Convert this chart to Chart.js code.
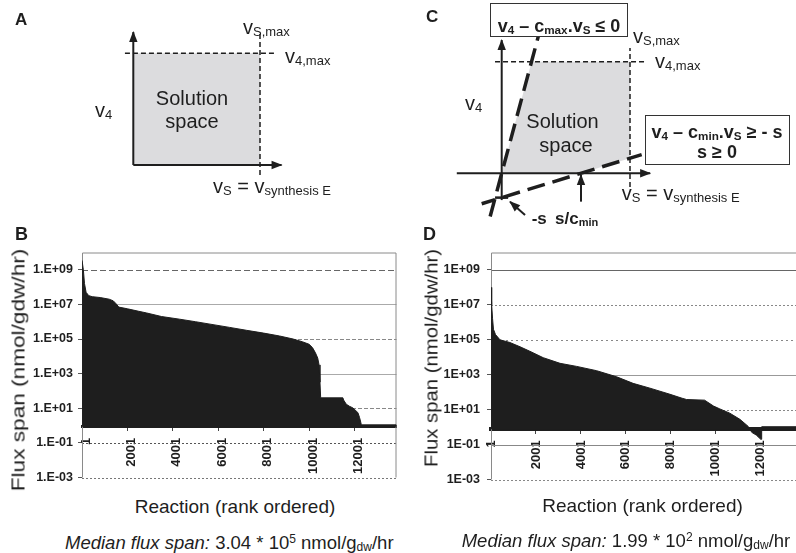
<!DOCTYPE html>
<html><head><meta charset="utf-8">
<script src="https://cdn.jsdelivr.net/npm/chart.js@4.4.1/dist/chart.umd.min.js"></script>
<style>
html,body{margin:0;padding:0;background:#fff;width:796px;height:553px;overflow:hidden;}
body{position:relative;font-family:"Liberation Sans",Arial,Helvetica,sans-serif;color:#1e1e1e;}
canvas{position:absolute;}
.t{position:absolute;white-space:nowrap;line-height:1;}
.t sub{font-size:0.65em;vertical-align:-0.18em;line-height:0;}
.t sup{font-size:0.65em;vertical-align:0.5em;line-height:0;}
.b{font-weight:bold;}
.box{position:absolute;border:1px solid #333;background:#fff;box-sizing:border-box;}
</style></head>
<body>
<canvas id="cA" width="400" height="220" style="left:0;top:0"></canvas>
<canvas id="cC" width="396" height="240" style="left:400px;top:0"></canvas>
<canvas id="cB" width="400" height="250" style="left:0;top:240px"></canvas>
<canvas id="cD" width="406" height="256" style="left:400px;top:238px"></canvas>

<!-- Panel A text -->
<div class="t b" style="left:15px;top:10.6px;font-size:17px">A</div>
<div class="t" style="left:95px;top:100.4px;font-size:20px">v<sub>4</sub></div>
<div class="t" style="left:243px;top:17.4px;font-size:20px">v<sub>S,max</sub></div>
<div class="t" style="left:285px;top:46.4px;font-size:20px">v<sub>4,max</sub></div>
<div class="t" style="left:192px;top:88px;font-size:20px;transform:translateX(-50%)">Solution</div>
<div class="t" style="left:192px;top:111px;font-size:20px;transform:translateX(-50%)">space</div>
<div class="t" style="left:213px;top:176.4px;font-size:20px">v<sub>S</sub> = v<sub>synthesis E</sub></div>

<!-- Panel C text -->
<div class="t b" style="left:426px;top:8.3px;font-size:17px">C</div>
<div class="box" style="left:490px;top:3px;width:138px;height:34px"></div>
<div class="t b" style="left:559px;top:16.5px;font-size:18px;transform:translateX(-50%)">v<sub>4</sub> – c<sub>max</sub>.v<sub>S</sub> ≤ 0</div>
<div class="t" style="left:633px;top:26.4px;font-size:20px">v<sub>S,max</sub></div>
<div class="t" style="left:655px;top:51.4px;font-size:20px">v<sub>4,max</sub></div>
<div class="t" style="left:465px;top:93.1px;font-size:20px">v<sub>4</sub></div>
<div class="t" style="left:562.5px;top:111.4px;font-size:20px;transform:translateX(-50%)">Solution</div>
<div class="t" style="left:566px;top:134.8px;font-size:20px;transform:translateX(-50%)">space</div>
<div class="box" style="left:645px;top:115px;width:145px;height:50px"></div>
<div class="t b" style="left:717px;top:123.1px;font-size:18px;transform:translateX(-50%)">v<sub>4</sub> – c<sub>min</sub>.v<sub>S</sub> ≥ - s</div>
<div class="t b" style="left:717px;top:143.1px;font-size:18px;transform:translateX(-50%)">s ≥ 0</div>
<div class="t" style="left:621.7px;top:183.1px;font-size:20px">v<sub>S</sub> = v<sub>synthesis E</sub></div>
<div class="t b" style="left:531.7px;top:210px;font-size:17px">-s</div>
<div class="t b" style="left:555px;top:210px;font-size:17px">s/c<sub>min</sub></div>

<!-- Panels B / D text -->
<div class="t b" style="left:15px;top:224.8px;font-size:18px">B</div>
<div class="t b" style="left:423px;top:224.8px;font-size:18px">D</div>
<div class="t" style="left:17.5px;top:370px;font-size:19px;transform:translate(-50%,-50%) rotate(-90deg) scaleX(1.19)">Flux span (nmol/gdw/hr)</div>
<div class="t" style="left:431px;top:357.5px;font-size:19px;transform:translate(-50%,-50%) rotate(-90deg) scaleX(1.07)">Flux span (nmol/gdw/hr)</div>
<div class="t" style="left:235px;top:497.2px;font-size:19px;transform:translateX(-50%)">Reaction (rank ordered)</div>
<div class="t" style="left:642.5px;top:495.6px;font-size:19px;transform:translateX(-50%)">Reaction (rank ordered)</div>
<div class="t" style="left:65px;top:534.3px;font-size:18.5px"><i>Median flux span:</i> 3.04 * 10<sup>5</sup> nmol/g<sub>dw</sub>/hr</div>
<div class="t" style="left:461.7px;top:532.3px;font-size:18.5px"><i>Median flux span:</i> 1.99 * 10<sup>2</sup> nmol/g<sub>dw</sub>/hr</div>

<script>
// ---------- DATA ----------
// Panel B: flux span per reaction (rank ordered)
const bReaction = [1, 60, 110, 180, 300, 450, 800, 1200, 1380, 1500, 1620, 2000, 2500, 2850, 3500, 4300, 5000, 5770, 6500, 7240, 8000, 8700, 9300, 9700, 10000, 10150, 10280, 10380, 10440, 10480, 10510, 11490, 11520, 11640, 11780, 11930, 12150, 12220, 12280, 12300, 13850];
const bFluxSpan = [3.5e9, 1e9, 1.6e8, 5e7, 3.2e7, 2.8e7, 2.5e7, 2e7, 1.6e7, 1.1e7, 7e6, 5.6e6, 4e6, 3.2e6, 2e6, 1.4e6, 1e6, 6.8e5, 4.7e5, 3.2e5, 2.2e5, 1.5e5, 1e5, 7e4, 5e4, 3.2e4, 1.6e4, 8e3, 3.2e3, 320, 40, 40, 30, 17, 13, 10.5, 5.6, 3, 1.5, 1.1, 1.1];
// Panel D
const dReaction = [1, 30, 70, 110, 200, 400, 840, 1290, 1730, 2320, 3070, 3810, 4700, 5590, 6320, 7070, 7960, 8500, 8700, 9500, 9900, 10180, 10620, 11070, 11440, 11600, 11800, 12000, 12030, 12040, 13700];
const dFluxSpan = [1e8, 1e7, 1.6e6, 4e5, 2e5, 1e5, 7e4, 4e4, 2.2e4, 9.5e3, 4.5e3, 3e3, 1.7e3, 760, 320, 170, 76, 45, 38, 35, 16, 11, 6.3, 2.8, 1.1, 0.5, 0.35, 0.2, 0.2, 1.05, 1.05];
// Axis ticks
const xTickValues = [1, 2001, 4001, 6001, 8001, 10001, 12001];
const xTickLabels = ['1', '2001', '4001', '6001', '8001', '10001', '12001'];
const yTickValues = [1e-3, 1e-1, 1e1, 1e3, 1e5, 1e7, 1e9];
const bYTickLabels = ['1.E-03', '1.E-01', '1.E+01', '1.E+03', '1.E+05', '1.E+07', '1.E+09'];
const dYTickLabels = ['1E-03', '1E-01', '1E+01', '1E+03', '1E+05', '1E+07', '1E+09'];

// Diagram A (units: vS,max = 1, v4,max = 1)
const aRegion = [[0,0],[1,0],[1,1],[0,1]];
const aXAxis = [[0,0],[1.17,0]];
const aYAxis = [[0,0],[0,1.19]];
const aV4Max = [[-0.066,1],[1.12,1]];
const aVSMax = [[1,-0.09],[1,1.18]];
// Diagram C
const cRegion = [[0,0],[0.233,1],[1,1],[1,0.135],[0.618,0]];
const cXAxis = [[-0.35,0],[1.157,0]];
const cYAxis = [[0,-0.24],[0,1.194]];
const cV4Max = [[-0.052,1],[1.117,1]];
const cVSMax = [[1,-0.123],[1,1.123]];
const cMaxLine = [[-0.09,-0.387],[0.30,1.29]];
const cMinLine = [[-0.156,-0.273],[1.091,0.167]];
const cSMark = [[-0.052,-0.218],[0.05,-0.218]];
const cArrowS = [[0.182,-0.374],[0.065,-0.254]];
const cArrowSc = [[0.618,-0.254],[0.618,-0.015]];

// ---------- RENDER ----------
Chart.defaults.font.family = '"Liberation Sans", Arial, sans-serif';
const INK = '#1e1e1e';

const arrowPlugin = {
  id: 'arrowHeads',
  afterDatasetsDraw(chart) {
    const ctx = chart.ctx;
    chart.data.datasets.forEach((ds, i) => {
      if (!ds.arrow) return;
      const el = chart.getDatasetMeta(i).data;
      const a = el[el.length - 2], b = el[el.length - 1];
      const ang = Math.atan2(b.y - a.y, b.x - a.x);
      const L = 10, W = 4.2;
      ctx.save();
      ctx.fillStyle = INK;
      ctx.beginPath();
      ctx.moveTo(b.x + Math.cos(ang), b.y + Math.sin(ang));
      ctx.lineTo(b.x - L * Math.cos(ang) + W * Math.sin(ang), b.y - L * Math.sin(ang) - W * Math.cos(ang));
      ctx.lineTo(b.x - L * Math.cos(ang) - W * Math.sin(ang), b.y - L * Math.sin(ang) + W * Math.cos(ang));
      ctx.closePath();
      ctx.fill();
      ctx.restore();
    });
  }
};

function pts(arr) { return arr.map(p => ({x: p[0], y: p[1]})); }
function lineDs(data, opts) {
  return Object.assign({data: pts(data), borderColor: INK, backgroundColor: INK, borderWidth: 2, pointRadius: 0, fill: false, tension: 0, borderCapStyle: 'butt'}, opts || {});
}
function diagram(id, xr, yr, datasets) {
  new Chart(document.getElementById(id), {
    type: 'line',
    data: {datasets},
    options: {
      responsive: false, animation: false, devicePixelRatio: 1, events: [],
      layout: {padding: 0},
      plugins: {legend: {display: false}, tooltip: {enabled: false}},
      scales: {
        x: {type: 'linear', display: false, min: xr[0], max: xr[1]},
        y: {type: 'linear', display: false, min: yr[0], max: yr[1]}
      }
    },
    plugins: [arrowPlugin]
  });
}

// layout of diagram A: origin at (133.3,165) px, 126.7 px per unit in x, 111.7 in y
diagram('cA', [-133.3/126.7, (400-133.3)/126.7], [(165-220)/111.7, 165/111.7], [
  lineDs(aXAxis, {arrow: true}),
  lineDs(aYAxis, {arrow: true}),
  lineDs(aV4Max, {borderWidth: 1.5, borderDash: [5,3]}),
  lineDs(aVSMax, {borderWidth: 1.5, borderDash: [5,3]}),
  lineDs(aRegion, {borderWidth: 0, borderColor: 'rgba(0,0,0,0)', fill: 'shape', backgroundColor: '#dcdcde', order: 10})
]);
// layout of diagram C: origin at (101.7,173.3) in its canvas, 128.3 px/unit x, 111.6 px/unit y
diagram('cC', [-101.7/128.3, (396-101.7)/128.3], [(173.3-240)/111.6, 173.3/111.6], [
  lineDs(cArrowS, {arrow: true}),
  lineDs(cArrowSc, {arrow: true}),
  lineDs(cMaxLine, {borderWidth: 3.5, borderDash: [18,8]}),
  lineDs(cMinLine, {borderWidth: 3.5, borderDash: [18,8], borderDashOffset: 4}),
  lineDs(cSMark, {borderWidth: 2.5}),
  lineDs(cXAxis, {arrow: true}),
  lineDs(cYAxis, {arrow: true}),
  lineDs(cV4Max, {borderWidth: 1.5, borderDash: [5,3]}),
  lineDs(cVSMax, {borderWidth: 1.5, borderDash: [5,3]}),
  lineDs(cRegion, {borderWidth: 0, borderColor: 'rgba(0,0,0,0)', fill: 'shape', backgroundColor: '#dcdcde', order: 10})
]);

const gridPlugin = {
  id: 'excelGrid',
  beforeDatasetsDraw(chart, args, opts) {
    const {ctx, chartArea: ca} = chart;
    const y = chart.scales.y;
    ctx.save();
    (opts.lines || []).forEach(g => {
      const py = Math.round(y.getPixelForValue(g.value)) + 0.5;
      ctx.beginPath();
      ctx.setLineDash(g.dash || []);
      ctx.strokeStyle = g.color;
      ctx.lineWidth = g.width || 1;
      ctx.moveTo(ca.left, py); ctx.lineTo(ca.right, py);
      ctx.stroke();
    });
    ctx.setLineDash([]);
    ctx.strokeStyle = opts.boxColor; ctx.lineWidth = 1;
    ctx.beginPath();
    ctx.moveTo(ca.left + 0.5, ca.bottom); ctx.lineTo(ca.left + 0.5, ca.top + 0.5);
    ctx.lineTo(ca.right - 0.5, ca.top + 0.5); ctx.lineTo(ca.right - 0.5, ca.bottom);
    ctx.stroke();
    ctx.restore();
  }
};

function fluxChart(id, xs, ys, cfg) {
  new Chart(document.getElementById(id), {
    type: 'line',
    data: {datasets: [{
      data: xs.map((x, i) => ({x, y: ys[i]})),
      borderColor: INK, backgroundColor: INK, borderWidth: 1, pointRadius: 0, tension: 0,
      fill: {value: cfg.base}
    }]},
    options: {
      responsive: false, animation: false, devicePixelRatio: 1, events: [],
      layout: {padding: cfg.padding},
      plugins: {legend: {display: false}, tooltip: {enabled: false}, excelGrid: {lines: cfg.grid, boxColor: '#8a8a8a'}},
      scales: {
        x: {
          type: 'linear', min: 0, max: cfg.xMax, position: {y: cfg.base},
          afterBuildTicks: s => { s.ticks = xTickValues.map(v => ({value: v})); },
          ticks: {autoSkip: false, minRotation: 90, maxRotation: 90, padding: 8, labelOffset: cfg.labelOffset,
                  color: INK, font: {size: 13, weight: 'bold'}, callback: (v, i) => xTickLabels[i]},
          grid: {drawOnChartArea: false, drawTicks: true, tickLength: 3, tickColor: '#444'},
          border: {display: true, color: INK, width: cfg.axisWidth}
        },
        y: {
          type: 'logarithmic', min: 1e-3, max: 1e10,
          afterBuildTicks: s => { s.ticks = yTickValues.map(v => ({value: v})); },
          afterFit: s => { s.width = cfg.yWidth; },
          ticks: {autoSkip: false, padding: cfg.yPad, color: INK, font: {size: 12.5, weight: 'bold'},
                  callback: (v, i) => cfg.yLabels[i]},
          grid: {drawOnChartArea: false, drawTicks: true, tickLength: 4, tickColor: '#555'},
          border: {display: false}
        }
      }
    },
    plugins: [gridPlugin]
  });
}

fluxChart('cB', bReaction, bFluxSpan, {
  base: 0.85, xMax: 13850, yWidth: 82, yPad: 5, axisWidth: 3, labelOffset: 4,
  padding: {top: 10, bottom: 8, left: 0, right: 3.5}, yLabels: bYTickLabels,
  grid: [
    {value: 1e9, color: '#666', dash: [6,3]},
    {value: 1e7, color: '#aaa'},
    {value: 1e5, color: '#888', dash: [4,2]},
    {value: 1e3, color: '#aaa'},
    {value: 1e1, color: '#888', dash: [4,2]},
    {value: 1e-1, color: '#555', dash: [2,2]},
    {value: 1e-3, color: '#777', dash: [2,2]}
  ]
});
fluxChart('cD', dReaction, dFluxSpan, {
  base: 0.75, xMax: 13700, yWidth: 91, yPad: 7, axisWidth: 4, labelOffset: 0,
  padding: {top: 10, bottom: 7, left: 0, right: 7}, yLabels: dYTickLabels,
  grid: [
    {value: 1e9, color: '#666', width: 1.2},
    {value: 1e7, color: '#888', dash: [2,2]},
    {value: 1e5, color: '#888', dash: [2,3]},
    {value: 1e3, color: '#999'},
    {value: 1e1, color: '#888', dash: [2,2]},
    {value: 1e-1, color: '#888'},
    {value: 1e-3, color: '#888', dash: [2,2]}
  ]
});
</script>
</body></html>
